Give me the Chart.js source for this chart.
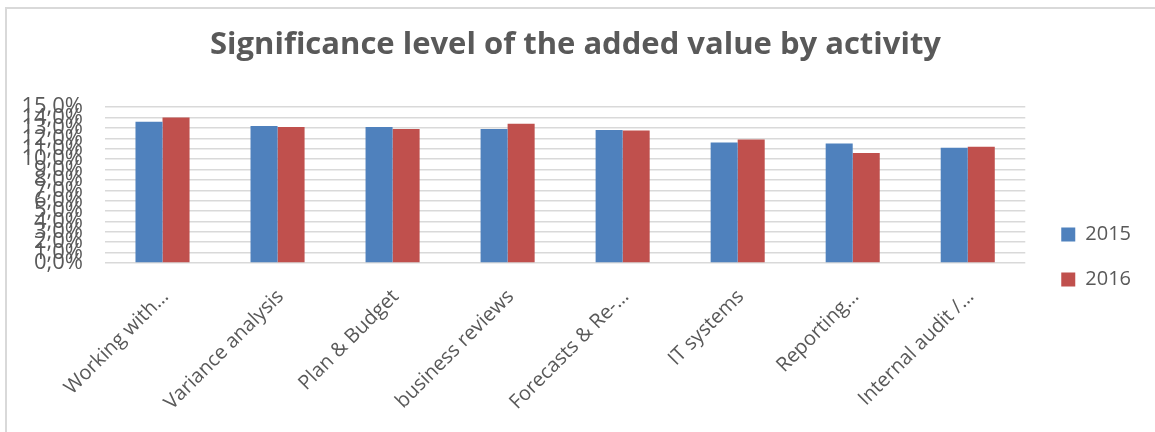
<!DOCTYPE html>
<html>
<head>
<meta charset="utf-8">
<script src="https://cdn.jsdelivr.net/npm/chart.js@4/dist/chart.umd.min.js"></script>
<style>
  html, body { margin: 0; padding: 0; background: #ffffff; }
  #wrap { position: relative; width: 1155px; height: 432px; overflow: hidden; }
  #frame { position: absolute; left: 5px; top: 7px; width: 1200px; height: 500px;
           border-left: 2px solid #d9d9d9; border-top: 2px solid #d9d9d9; }
  #c { position: absolute; left: 0; top: 0; }
</style>
</head>
<body>
<div id="wrap">
  <div id="frame"></div>
  <canvas id="c" width="1155" height="432"></canvas>
</div>
<script>
const categories = ["Working with…", "Variance analysis", "Plan & Budget", "business reviews",
                    "Forecasts & Re-…", "IT systems", "Reporting…", "Internal audit /…"];
const values2015 = [13.6, 13.2, 13.1, 12.9, 12.8, 11.6, 11.5, 11.1];
const values2016 = [14.0, 13.1, 12.9, 13.4, 12.75, 11.9, 10.6, 11.2];
const yTickLabels = ["0,0%", "1,0%", "2,0%", "3,0%", "4,0%", "5,0%", "6,0%", "7,0%",
                     "8,0%", "9,0%", "10,0%", "11,0%", "12,0%", "13,0%", "14,0%", "15,0%"];
const seriesNames = ["2015", "2016"];
const chartTitle = "Significance level of the added value by activity";

const FONT = "'Open Sans', 'DejaVu Sans', sans-serif";
const GREY = "#595959";

// spacer box between plot area and legend (Excel leaves a gap there)
const spacerPlugin = {
  id: "spacer",
  beforeInit(chart) {
    Chart.layouts.addBox(chart, {
      position: "right",
      weight: 500,
      fullSize: false,
      options: {},
      width: 0, height: 0, left: 0, top: 0, right: 0, bottom: 0,
      isHorizontal() { return false; },
      update(maxWidth, maxHeight) { this.width = 11; this.height = maxHeight; return {width: 11, height: maxHeight}; },
      getPadding() { return { left: 0, right: 0, top: 0, bottom: 0 }; },
      draw() {}
    });
  }
};

const chart = new Chart(document.getElementById("c"), {
  type: "bar",
  data: {
    labels: categories,
    datasets: [
      { label: seriesNames[0], data: values2015, backgroundColor: "#4F81BD", borderWidth: 0 },
      { label: seriesNames[1], data: values2016, backgroundColor: "#C0504D", borderWidth: 0 }
    ]
  },
  plugins: [spacerPlugin],
  options: {
    responsive: false,
    animation: false,
    devicePixelRatio: 1,
    layout: { padding: { left: 10, right: 14, top: 0, bottom: 0 } },
    datasets: { bar: { categoryPercentage: 0.47, barPercentage: 1.0 } },
    plugins: {
      title: {
        display: true,
        text: chartTitle,
        color: GREY,
        font: { family: FONT, size: 31, weight: "bold" },
        padding: { top: 27, bottom: 43 }
      },
      legend: {
        display: true,
        position: "right",
        title: { display: true, text: " ", font: { size: 10 }, padding: { top: 35, bottom: 35 } },
        labels: {
          color: GREY,
          font: { family: FONT, size: 20 },
          boxWidth: 14,
          boxHeight: 14,
          padding: 25
        }
      },
      tooltip: { enabled: false }
    },
    scales: {
      x: {
        grid: { display: false, drawTicks: false },
        border: { display: false },
        ticks: {
          color: GREY,
          font: { family: FONT, size: 20 },
          minRotation: 45,
          maxRotation: 45,
          autoSkip: false,
          padding: 22,
          labelOffset: 3
        },
        afterFit: (scale) => { scale.height = 169; }
      },
      y: {
        min: 0,
        max: 15,
        grid: { color: "#d9d9d9", lineWidth: 1.5, drawTicks: false },
        border: { display: false },
        ticks: {
          stepSize: 1,
          autoSkip: false,
          color: GREY,
          font: { family: FONT, size: 22 },
          padding: 22,
          callback: (v) => yTickLabels[Math.round(v)]
        },
        afterFit: (scale) => { scale.width = 95; }
      }
    }
  }
});
</script>
</body>
</html>
